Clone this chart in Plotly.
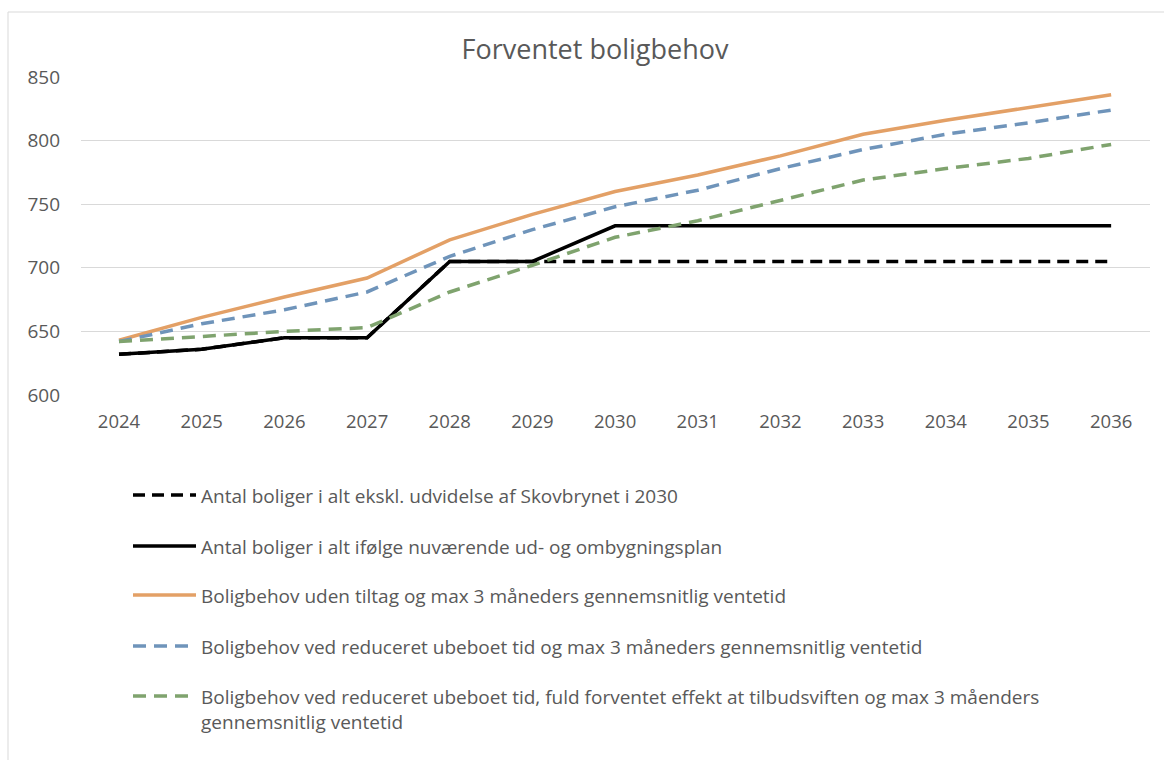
import plotly.graph_objects as go

# ---------------- data ----------------
years = ["2024", "2025", "2026", "2027", "2028", "2029", "2030",
         "2031", "2032", "2033", "2034", "2035", "2036"]

antal_ekskl = [632, 636, 645, 645, 705, 705, 705, 705, 705, 705, 705, 705, 705]
antal_plan = [632, 636, 645, 645, 705, 705, 733, 733, 733, 733, 733, 733, 733]
behov_uden = [643, 661, 677, 692, 722, 742, 760, 773, 788, 805, 816, 826, 836]
behov_reduceret = [642, 656, 667, 681, 709, 730, 748, 761, 778, 793, 805, 814, 824]
behov_fuld = [642, 646, 650, 653, 681, 702, 724, 737, 753, 769, 778, 786, 797]

names = [
    "Antal boliger i alt ekskl. udvidelse af Skovbrynet i 2030",
    "Antal boliger i alt ifølge nuværende ud- og ombygningsplan",
    "Boligbehov uden tiltag og max 3 måneders gennemsnitlig ventetid",
    "Boligbehov ved reduceret ubeboet tid og max 3 måneders gennemsnitlig ventetid",
    "Boligbehov ved reduceret ubeboet tid, fuld forventet effekt at tilbudsviften og max 3 måenders<br>gennemsnitlig ventetid",
]
title_text = "Forventet boligbehov"
y_ticks = [600, 650, 700, 750, 800, 850]

# ---------------- styles ----------------
series = [antal_ekskl, antal_plan, behov_uden, behov_reduceret, behov_fuld]
colors = ["#000000", "#000000", "#E3A066", "#6F94BA", "#7FA36E"]
dashes = ["12px,7px", "solid", "solid", "13px,8px", "13px,8px"]
widths = [3.5, 3.5, 3.5, 3.5, 3.5]

W, H = 1164, 760
L, R, T, B = 81, 14, 77, 365
PW, PH = W - L - R, H - T - B
FONT = "'Open Sans', 'Noto Sans', sans-serif"
GREY = "#595959"


def px_x(x):
    return (x - L) / PW


def px_y(y):
    return (H - B - y) / PH


fig = go.Figure()
for vals, nm, c, d, w in zip(series, names, colors, dashes, widths):
    fig.add_trace(go.Scatter(
        x=years, y=vals, mode="lines", name=nm,
        line=dict(color=c, dash=d, width=w),
        showlegend=False,
    ))

shapes = []
annotations = []
# outer chart border
shapes.append(dict(type="rect", xref="paper", yref="paper",
                   x0=px_x(8), x1=px_x(1200), y0=px_y(800), y1=px_y(12),
                   line=dict(color="#D9D9D9", width=1), fillcolor="rgba(0,0,0,0)",
                   layer="below"))

# custom legend
legend_y = [495, 546, 595, 646, 696]
for i, (nm, c, d, w) in enumerate(zip(names, colors, dashes, widths)):
    yy = legend_y[i]
    shapes.append(dict(type="line", xref="paper", yref="paper",
                       x0=px_x(133), x1=px_x(196), y0=px_y(yy), y1=px_y(yy),
                       line=dict(color=c, width=w, dash=d)))
    annotations.append(dict(text=nm, xref="paper", yref="paper",
                            x=px_x(199), y=px_y(yy - 14), xanchor="left", yanchor="top",
                            align="left", showarrow=False,
                            font=dict(family=FONT, size=19, color=GREY)))

fig.update_layout(
    width=W, height=H,
    margin=dict(l=L, r=R, t=T, b=B, autoexpand=False),
    paper_bgcolor="white", plot_bgcolor="white",
    font=dict(family=FONT, color=GREY),
    title=dict(text=title_text, x=595 / W, xref="container", xanchor="center",
               y=1 - 50 / H, yref="container", yanchor="middle",
               font=dict(family=FONT, size=27, color=GREY)),
    shapes=shapes, annotations=annotations,
    showlegend=False,
)
fig.update_xaxes(type="category", range=[-0.46, 12.47], showgrid=False,
                 showline=False, ticks="", ticklabelstandoff=13,
                 tickfont=dict(family=FONT, size=18.5, color=GREY))
fig.update_yaxes(range=[600, 850], tickvals=y_ticks, showgrid=True,
                 gridcolor="#D9D9D9", gridwidth=1, zeroline=False,
                 showline=False, ticks="", ticklabelstandoff=20,
                 tickfont=dict(family=FONT, size=19, color=GREY))

fig.write_html("out.html", config={"displayModeBar": False},
               post_script="document.body.style.margin='0px';")
